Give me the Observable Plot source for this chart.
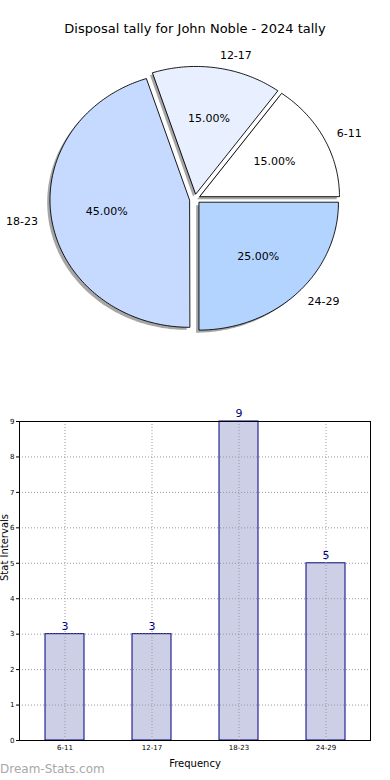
<!DOCTYPE html>
<html>
<head>
<meta charset="utf-8">
<script src="https://cdn.jsdelivr.net/npm/d3@7"></script>
<script src="https://cdn.jsdelivr.net/npm/@observablehq/plot@0.6"></script>
<style>
  html, body { margin: 0; padding: 0; background: #fff; }
  body { width: 390px; height: 780px; position: relative; overflow: hidden; font-family: "DejaVu Sans", sans-serif; }
  #title { position: absolute; left: 0; width: 390px; top: 21px; text-align: center; font-size: 13px; color: #000; }
  #pie { position: absolute; left: 0; top: 0; }
  #bars { position: absolute; left: 0; top: 395px; }
  #wm { position: absolute; left: 0; top: 762px; font-size: 12px; font-weight: normal; color: #a8a8a8; font-family: "DejaVu Sans", sans-serif; }
</style>
</head>
<body>
<div id="pie"></div>
<div id="title">Disposal tally for John Noble - 2024 tally</div>
<div id="bars"></div>
<div id="wm">Dream-Stats.com</div>
<script>
// ---- data ----
const categories = ["6-11", "12-17", "18-23", "24-29"];
const counts = [3, 3, 9, 5];
const yTicks = [0, 1, 2, 3, 4, 5, 6, 7, 8, 9];

// ---- styles ----
const sliceColors = ["#ffffff", "#e8f0ff", "#c6d9ff", "#b3d4ff"];
const explode = 0.04;

// ---- pie geometry derived from counts ----
const total = d3.sum(counts);
let acc = 0;
const slices = categories.map((cat, i) => {
  const a0 = acc / total * 360;
  acc += counts[i];
  const a1 = acc / total * 360;
  const mid = (a0 + a1) / 2;
  const rad = mid * Math.PI / 180;
  return {cat, a0, a1, mid, ox: explode * Math.cos(rad), oy: explode * Math.sin(rad), pct: counts[i] / total * 100};
});
function wedgePoints(s, dx, dy) {
  const pts = [{cat: s.cat, x: s.ox + dx, y: s.oy + dy}];
  const n = Math.max(2, Math.ceil(s.a1 - s.a0));
  for (let k = 0; k <= n; k++) {
    const t = (s.a0 + (s.a1 - s.a0) * k / n) * Math.PI / 180;
    pts.push({cat: s.cat, x: s.ox + dx + Math.cos(t), y: s.oy + dy + Math.sin(t)});
  }
  return pts;
}
const wedges = slices.flatMap(s => wedgePoints(s, 0, 0));
const shadows = slices.flatMap(s => wedgePoints(s, -0.02, -0.02));
const labels = slices.map(s => {
  const r = s.mid * Math.PI / 180;
  return {cat: s.cat, x: s.ox + 1.1 * Math.cos(r), y: s.oy + 1.1 * Math.sin(r),
          px: s.ox + 0.6 * Math.cos(r), py: s.oy + 0.6 * Math.sin(r), pct: s.pct.toFixed(2) + "%"};
});

const pie = Plot.plot({
  width: 390, height: 360, margin: 0,
  style: {fontFamily: "DejaVu Sans, sans-serif", background: "transparent"},
  x: {domain: [-1, 1], range: [55, 334], axis: null},
  y: {domain: [-1, 1], range: [326, 71], axis: null},
  color: {domain: categories, range: sliceColors},
  marks: [
    Plot.line(shadows, {x: "x", y: "y", z: "cat", curve: "linear-closed", fill: "#4d4d4d", fillOpacity: 0.5, stroke: "none"}),
    Plot.line(wedges, {x: "x", y: "y", z: "cat", curve: "linear-closed", fill: "cat", stroke: "#000", strokeWidth: 0.9}),
    Plot.text(labels.filter(d => d.x >= 0), {x: "x", y: "y", text: "cat", textAnchor: "start", fontSize: 11, fill: "#000"}),
    Plot.text(labels.filter(d => d.x < 0), {x: "x", y: "y", text: "cat", textAnchor: "end", fontSize: 11, fill: "#000"}),
    Plot.text(labels, {x: "px", y: "py", text: "pct", fontSize: 11, fill: "#000"})
  ]
});
document.getElementById("pie").appendChild(pie);

// ---- bar chart ----
const barData = categories.map((c, i) => ({cat: c, value: counts[i]}));
const bars = Plot.plot({
  width: 390, height: 385,
  marginTop: 26, marginBottom: 40, marginLeft: 19, marginRight: 20,
  style: {fontFamily: "DejaVu Sans, sans-serif", background: "transparent"},
  x: {domain: categories, padding: 0},
  y: {domain: [0, 9]},
  marks: [
    Plot.barY(barData, {x: "cat", y: "value", fill: "#cdcfe6", stroke: "#000080", strokeWidth: 1, insetLeft: 24, insetRight: 24}),
    Plot.gridY(yTicks, {stroke: "#999", strokeOpacity: 1, strokeDasharray: "1,2"}),
    Plot.gridX(categories, {stroke: "#999", strokeOpacity: 1, strokeDasharray: "1,2"}),
    Plot.frame({stroke: "#000", strokeWidth: 1}),
    Plot.axisY(yTicks, {tickSize: 3, tickPadding: 2, fontSize: 7, label: null, tickFormat: d => String(d)}),
    Plot.axisX(categories, {tickSize: 0, tickPadding: 5, fontSize: 7, label: null}),
    Plot.text(barData, {x: "cat", y: "value", text: d => String(d.value), dy: -8, fill: "#000080", fontSize: 11}),
    Plot.text(["Frequency"], {frameAnchor: "bottom", text: d => d, dy: 26, fontSize: 10, fill: "#000"}),
    Plot.text(["Stat Intervals"], {frameAnchor: "left", text: d => d, rotate: -90, dx: -15, fontSize: 10, fill: "#000"})
  ]
});
document.getElementById("bars").appendChild(bars);
</script>
</body>
</html>
